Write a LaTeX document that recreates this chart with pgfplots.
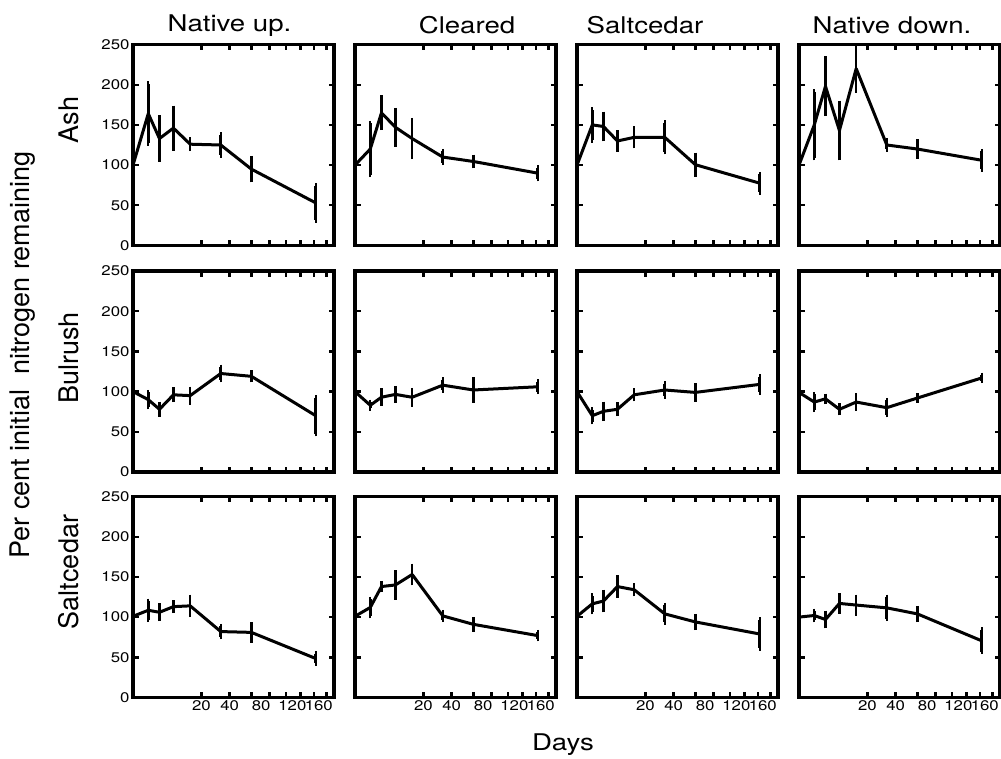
\documentclass[border=0pt]{standalone}
\usepackage{fontspec}
\setmainfont{TeX Gyre Heros}
\newfontfamily\wide[FakeStretch=1.2]{TeX Gyre Heros}
\usepackage{pgfplots}
\pgfplotsset{compat=1.18}

\pgfplotsset{panel/.style={scale only axis, width=201pt, height=201pt,
  xmin=0, xmax=173, ymin=0, ymax=250,
  x coord trafo/.code={\pgfmathparse{sqrt(##1)}},
  x coord inv trafo/.code={\pgfmathparse{(##1)^2}},
  xtick={20,40,60,80,100,120,140,160}, xticklabels={},
  ytick={0,50,100,150,200,250}, yticklabels={},
  tick align=inside, major tick length=5.5pt,
  tick style={black, line width=2.4pt},
  axis line style={black, line width=3.4pt},
  tick label style={font=\wide\fontsize{14}{16}\selectfont},
  /pgf/number format/assume math mode=true,
  anchor=south west},
  firstcol/.style={yticklabels={0,50,100,150,200,250}},
  lastrow/.style={xticklabels={20,40,,80\hspace*{17pt},,120\hspace*{16pt},,160\hspace*{15pt}}},
  ser/.style={black, line width=3pt, mark=none, line join=round,
    error bars/.cd, y dir=both, y explicit,
    error bar style={line width=2.6pt},
    error mark options={line width=2.4pt, mark size=2.5pt, black}}}

\begin{document}
\begin{tikzpicture}
\path[use as bounding box] (0pt,0pt) rectangle (1001pt,-759pt);

% ---- Ash
\begin{axis}[panel, firstcol, at={(133pt,-245.5pt)}]
\addplot[ser] coordinates {(0,100) +- (0,0) (1,164) +- (0,37) (3,133) +- (0,26) (7,146) +- (0,25) (14,126) +- (0,5.5) (33,125) +- (0,13) (60,95) +- (0,13.5) (143,53) +- (0,21.5)};
\end{axis}
\begin{axis}[panel, at={(355pt,-245.5pt)}]
\addplot[ser] coordinates {(0,100) +- (0,0) (1,120) +- (0,32) (3,165) +- (0,18.5) (7,147) +- (0,21) (14,133) +- (0,22.5) (33,110) +- (0,7) (60,104.5) +- (0,5.5) (143,90) +- (0,7)};
\end{axis}
\begin{axis}[panel, at={(577pt,-245.5pt)}]
\addplot[ser] coordinates {(0,100) +- (0,0) (1,150) +- (0,19) (3,148) +- (0,15.5) (7,130) +- (0,10) (14,134.5) +- (0,10.5) (33,134.5) +- (0,18) (60,100.5) +- (0,12) (143,77.5) +- (0,11)};
\end{axis}
\begin{axis}[panel, at={(799pt,-245.5pt)}]
\addplot[ser] coordinates {(0,100) +- (0,0) (1,150) +- (0,41) (3,198) +- (0,34) (7,143) +- (0,34) (14,220) +- (0,27) (33,125) +- (0,5) (60,120) +- (0,9) (143,106) +- (0,11)};
\end{axis}

% ---- Bulrush
\begin{axis}[panel, firstcol, at={(133pt,-472pt)}]
\addplot[ser] coordinates {(0,100) +- (0,0) (1,90) +- (0,9) (3,78) +- (0,6) (7,96) +- (0,6) (14,95) +- (0,8) (33,122.5) +- (0,8) (60,119) +- (0,4.5) (143,70) +- (0,22.5)};
\end{axis}
\begin{axis}[panel, at={(355pt,-472pt)}]
\addplot[ser] coordinates {(0,100) +- (0,0) (1,83) +- (0,4) (3,93) +- (0,8) (7,96.5) +- (0,7.5) (14,93) +- (0,8.5) (33,108) +- (0,6.5) (60,102) +- (0,13) (143,106) +- (0,6)};
\end{axis}
\begin{axis}[panel, at={(577pt,-472pt)}]
\addplot[ser] coordinates {(0,100) +- (0,0) (1,70) +- (0,7.5) (3,75.5) +- (0,9) (7,78) +- (0,5.5) (14,96) +- (0,5) (33,102) +- (0,8) (60,99) +- (0,8.5) (143,109) +- (0,9.5)};
\end{axis}
\begin{axis}[panel, at={(799pt,-472pt)}]
\addplot[ser] coordinates {(0,99) +- (0,0) (1,87) +- (0,9.5) (3,91) +- (0,3.5) (7,78) +- (0,4.5) (14,87) +- (0,8) (33,80) +- (0,9) (60,92) +- (0,3) (143,117) +- (0,3.5)};
\end{axis}

% ---- Saltcedar
\begin{axis}[panel, firstcol, lastrow, at={(133pt,-697.5pt)}]
\addplot[ser] coordinates {(0,101) +- (0,0) (1,108.5) +- (0,11.5) (3,106) +- (0,8) (7,113) +- (0,5) (14,114) +- (0,11) (33,82) +- (0,6.5) (60,81) +- (0,9.5) (143,48.5) +- (0,6)};
\end{axis}
\begin{axis}[panel, lastrow, at={(355pt,-697.5pt)}]
\addplot[ser] coordinates {(0,101) +- (0,0) (1,112) +- (0,10.5) (3,138) +- (0,4) (7,140) +- (0,15) (14,153) +- (0,10.5) (33,101.5) +- (0,4.5) (60,91) +- (0,6) (143,77) +- (0,4)};
\end{axis}
\begin{axis}[panel, lastrow, at={(577pt,-697.5pt)}]
\addplot[ser] coordinates {(0,101) +- (0,0) (1,116.5) +- (0,10) (3,120) +- (0,11) (7,138) +- (0,11) (14,134) +- (0,5) (33,104) +- (0,10.5) (60,94) +- (0,7) (143,79) +- (0,18)};
\end{axis}
\begin{axis}[panel, lastrow, at={(799pt,-697.5pt)}]
\addplot[ser] coordinates {(0,100) +- (0,0) (1,102) +- (0,5.5) (3,97) +- (0,8) (7,117) +- (0,9.5) (14,115) +- (0,10) (33,111.5) +- (0,13.5) (60,104) +- (0,7) (143,70.5) +- (0,13.5)};
\end{axis}

% ---- titles and labels
\begin{scope}[every node/.style={font=\wide\fontsize{23}{26}\selectfont, anchor=base, inner sep=0pt}]
\node at (229.5pt,-32pt) {Native up.};
\node at (467pt,-34pt) {Cleared};
\node at (645pt,-34pt) {Saltcedar};
\node at (892pt,-34pt) {Native down.};
\node at (563pt,-750pt) {Days};
\end{scope}
\begin{scope}[every node/.style={font=\fontsize{27}{30}\selectfont, rotate=90, inner sep=0pt}]
\node at (69pt,-120pt) {Ash};
\node at (69pt,-358pt) {Bulrush};
\node at (69pt,-572pt) {Saltcedar};
\node at (23pt,-355pt) {Per cent initial\ \ nitrogen remaining};
\end{scope}
\end{tikzpicture}
\end{document}
